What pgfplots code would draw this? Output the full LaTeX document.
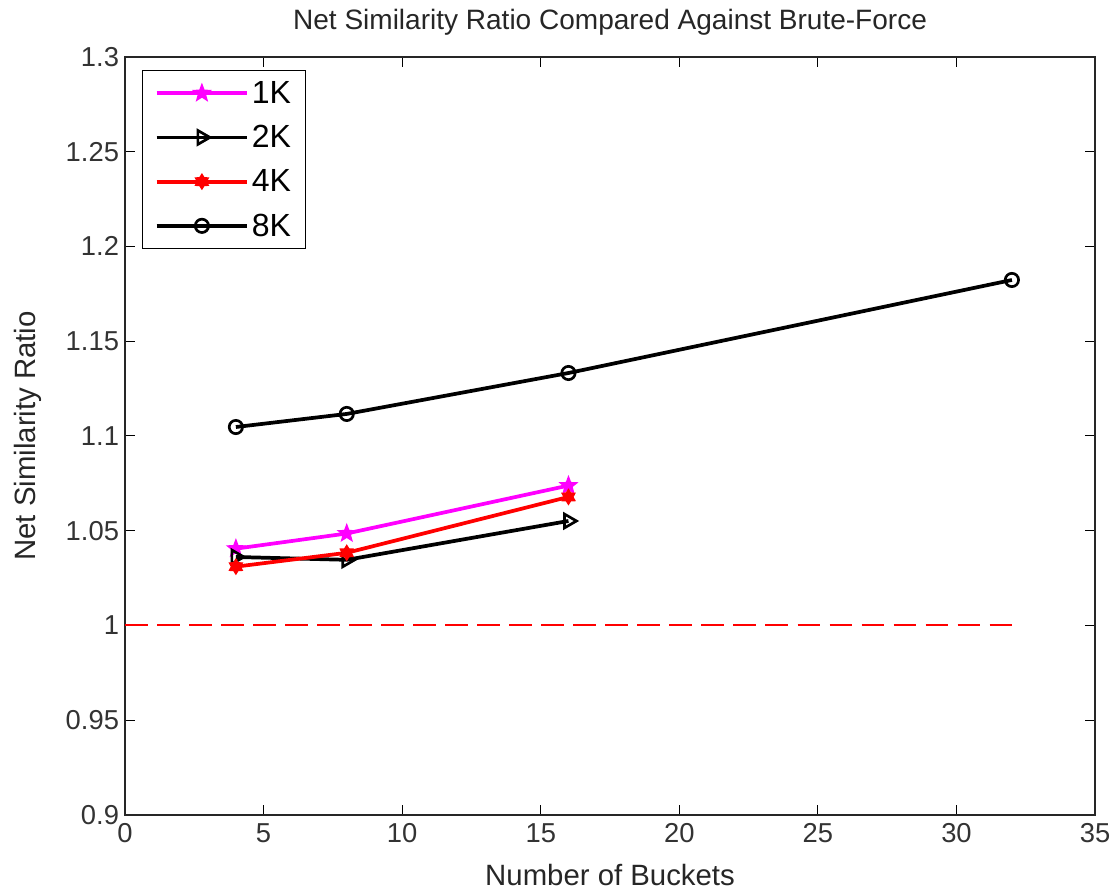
\documentclass[border=0pt]{standalone}
\usepackage{fontspec}
\setmainfont{Liberation Sans}
\usepackage{pgfplots}
\pgfplotsset{compat=1.18}
\definecolor{mlmag}{RGB}{255,0,255}
\definecolor{mlred}{RGB}{255,0,0}

% filled pentagram and hexagram, as MATLAB draws them
\pgfdeclareplotmark{pentagram}{%
  \pgfpathmoveto{\pgfpointpolar{90}{\pgfplotmarksize}}%
  \foreach \k in {1,...,9}{%
    \pgfmathsetmacro\ang{90+36*\k}%
    \ifodd\k
      \pgfpathlineto{\pgfpointpolar{\ang}{0.42\pgfplotmarksize}}%
    \else
      \pgfpathlineto{\pgfpointpolar{\ang}{\pgfplotmarksize}}%
    \fi}%
  \pgfpathclose\pgfusepathqfillstroke}
\pgfdeclareplotmark{hexagram}{%
  \pgfpathmoveto{\pgfpointpolar{90}{\pgfplotmarksize}}%
  \foreach \k in {1,...,11}{%
    \pgfmathsetmacro\ang{90+30*\k}%
    \ifodd\k
      \pgfpathlineto{\pgfpointpolar{\ang}{0.6\pgfplotmarksize}}%
    \else
      \pgfpathlineto{\pgfpointpolar{\ang}{\pgfplotmarksize}}%
    \fi}%
  \pgfpathclose\pgfusepathqfillstroke}

\begin{document}
\begin{tikzpicture}
\begin{axis}[
  name=ax,
  scale only axis,
  width=727pt, height=568pt,
  xmin=0, xmax=35, ymin=0.9, ymax=1.3,
  xtick={0,5,...,35},
  ytick={0.9,0.95,1,1.05,1.1,1.15,1.2,1.25,1.3},
  tick align=inside,
  major tick length=7.5pt,
  tick style={black, line width=0.8pt},
  axis line style={black!85, line width=1.2pt},
  /pgf/number format/assume math mode=true,
  tick label style={font=\fontsize{20.5}{24}\selectfont, color=black!80},
  xticklabel style={yshift=-3pt},
  yticklabel style={xshift=-1pt},
  title style={font=\fontsize{21}{25}\selectfont, color=black!85,
    at={(axis description cs:0.5,1)}, anchor=center, yshift=20pt},
  xlabel style={font=\fontsize{22}{26}\selectfont, color=black!85,
    at={(axis description cs:0.5,0)}, anchor=center, yshift=-45pt},
  ylabel style={font=\fontsize{22}{26}\selectfont, color=black!85,
    at={(axis description cs:0,0.5)}, anchor=center, yshift=73pt},
  title={Net Similarity Ratio Compared Against Brute-Force},
  xlabel={Number of Buckets},
  ylabel={Net Similarity Ratio},
  legend style={font=\fontsize{24}{28}\selectfont, draw=black, line width=1pt,
    inner xsep=9pt, inner ysep=6pt, row sep=11pt,
    at={(axis description cs:0.0175,0.983)}, anchor=north west},
  legend cell align=left,
  legend image code/.code={%
    \draw[mark repeat=2, mark phase=2] plot coordinates {(0pt,0pt) (34pt,0pt) (68pt,0pt)};},
]
\addplot[mlmag, line width=2.8pt, mark=pentagram, mark size=6.5pt,
  mark options={line width=1pt, fill=mlmag}]
  coordinates {(4,1.0405) (8,1.0485) (16,1.0738)};
\addlegendentry{1K}
\addplot[black, line width=2.8pt, mark=triangle, mark size=6pt,
  mark options={rotate=-90, line width=2pt, fill=white}]
  coordinates {(4,1.0361) (8,1.0346) (16,1.0551)};
\addlegendentry{2K}
\addplot[mlred, line width=2.8pt, mark=hexagram, mark size=5.5pt,
  mark options={line width=1pt, fill=mlred}]
  coordinates {(4,1.0310) (8,1.0383) (16,1.0678)};
\addlegendentry{4K}
\addplot[black, line width=2.8pt, mark=o, mark size=5pt,
  mark options={line width=2pt, fill=white}]
  coordinates {(4,1.1047) (8,1.1116) (16,1.1332) (32,1.1823)};
\addlegendentry{8K}
\addplot[mlred, line width=1.5pt, dash pattern=on 17pt off 7pt, forget plot]
  coordinates {(0,1) (32,1)};
\end{axis}
\pgfresetboundingbox
\path ([shift={(-93.7pt,-58.5pt)}]ax.south west) rectangle ([shift={(12.7pt,42.7pt)}]ax.north east);
\end{tikzpicture}
\end{document}
